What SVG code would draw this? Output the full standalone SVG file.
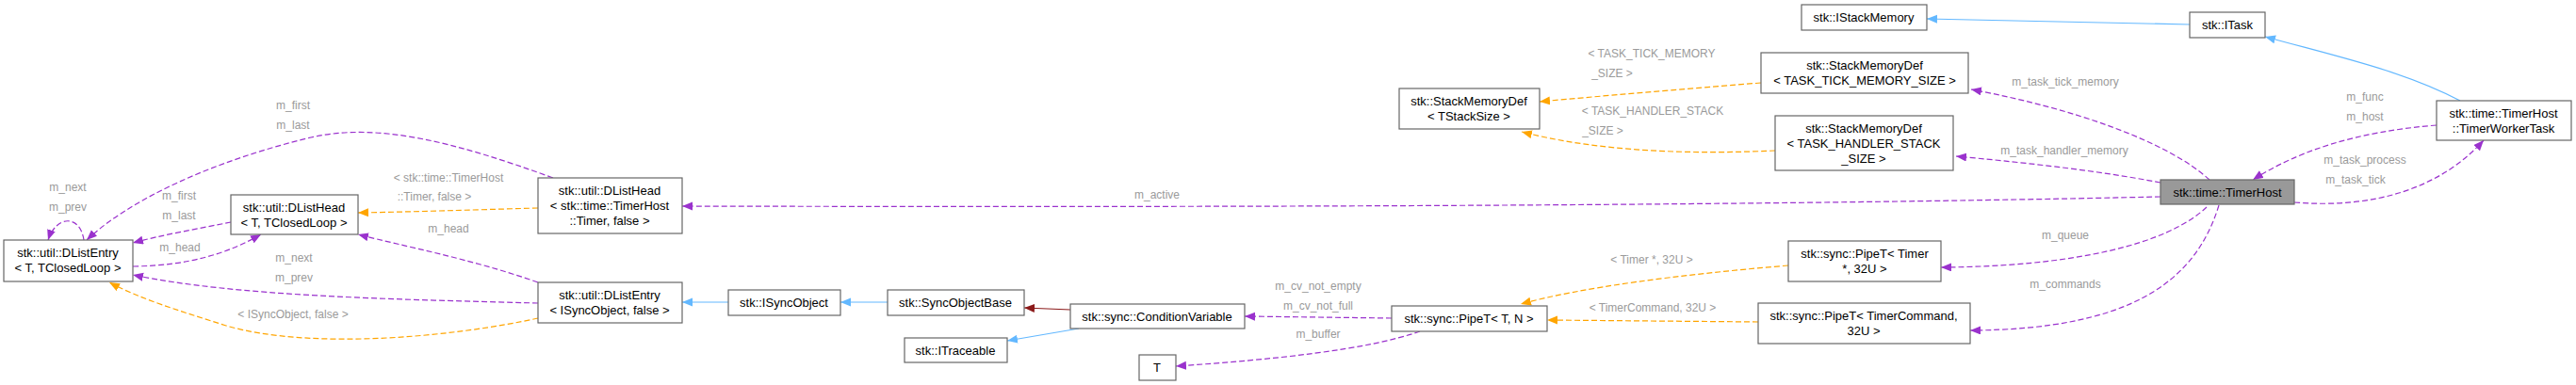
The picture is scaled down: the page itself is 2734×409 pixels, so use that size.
<svg xmlns="http://www.w3.org/2000/svg" width="2734" height="409" viewBox="0 0 2734 409">
<style>
.n rect{fill:#fff;stroke:#666;stroke-width:1.2}
.n text{font-family:"Liberation Sans",Arial,sans-serif;font-size:13px;fill:#000;text-anchor:middle}
.e{fill:none;stroke-width:1.2}
.d{stroke-dasharray:6,3}
.p{stroke:#9a32cd}.o{stroke:#ffa500}.b{stroke:#63b8ff}.r{stroke:#8b1a1a}
.l{font-family:"Liberation Sans",Arial,sans-serif;font-size:12px;fill:#9a9a9a;text-anchor:middle}
</style>
<defs>
<marker id="mp" markerUnits="userSpaceOnUse" markerWidth="12" markerHeight="10" refX="11" refY="4.5" orient="auto"><path d="M0,0L11,4.5L0,9z" fill="#9a32cd"/></marker>
<marker id="mo" markerUnits="userSpaceOnUse" markerWidth="12" markerHeight="10" refX="11" refY="4.5" orient="auto"><path d="M0,0L11,4.5L0,9z" fill="#ffa500"/></marker>
<marker id="mb" markerUnits="userSpaceOnUse" markerWidth="12" markerHeight="10" refX="11" refY="4.5" orient="auto"><path d="M0,0L11,4.5L0,9z" fill="#63b8ff"/></marker>
<marker id="mr" markerUnits="userSpaceOnUse" markerWidth="12" markerHeight="10" refX="11" refY="4.5" orient="auto"><path d="M0,0L11,4.5L0,9z" fill="#8b1a1a"/></marker>
</defs>
<g id="edges">
<path class="e d p" marker-end="url(#mp)" d="M587,189 C480,150 400,130 330,146 C230,170 140,210 92,255"/>
<path class="e d p" marker-end="url(#mp)" d="M89,255 C85,228 60,228 51,255"/>
<path class="e d p" marker-end="url(#mp)" d="M245,236 C210,243 170,250 141,258"/>
<path class="e d p" marker-end="url(#mp)" d="M141,283 C200,282 240,270 277,249"/>
<path class="e o d" marker-end="url(#mo)" d="M571,221 C500,223 440,225 380,226"/>
<path class="e d p" marker-end="url(#mp)" d="M571,300 C500,275 430,262 380,249"/>
<path class="e d p" marker-end="url(#mp)" d="M571,322 C420,318 250,315 141,292"/>
<path class="e o d" marker-end="url(#mo)" d="M571,338 C480,358 330,372 240,346 C190,330 150,318 116,300"/>
<path class="e b" marker-end="url(#mb)" d="M773,321 L724,321"/>
<path class="e b" marker-end="url(#mb)" d="M942,321 L892,321"/>
<path class="e r" marker-end="url(#mr)" d="M1136,329 L1087,327"/>
<path class="e b" marker-end="url(#mb)" d="M1145,349 L1069,362"/>
<path class="e d p" marker-end="url(#mp)" d="M1477,338 L1321,336"/>
<path class="e d p" marker-end="url(#mp)" d="M1507,352 C1450,372 1350,382 1248,389"/>
<path class="e o d" marker-end="url(#mo)" d="M1898,282 C1780,292 1680,305 1614,323"/>
<path class="e o d" marker-end="url(#mo)" d="M1866,342 L1642,340"/>
<path class="e o d" marker-end="url(#mo)" d="M1869,88 C1780,95 1700,102 1634,108"/>
<path class="e o d" marker-end="url(#mo)" d="M1884,160 C1800,164 1700,162 1615,140"/>
<path class="e b" marker-end="url(#mb)" d="M2324,26 L2045,20"/>
<path class="e b" marker-end="url(#mb)" d="M2611,107 C2550,75 2480,60 2404,39"/>
<path class="e d p" marker-end="url(#mp)" d="M2345,191 C2300,150 2200,115 2092,95"/>
<path class="e d p" marker-end="url(#mp)" d="M2293,194 C2220,180 2140,172 2076,166"/>
<path class="e d p" marker-end="url(#mp)" d="M2293,209 C1800,220 1200,220 724,219"/>
<path class="e d p" marker-end="url(#mp)" d="M2342,220 C2300,260 2200,283 2060,284"/>
<path class="e d p" marker-end="url(#mp)" d="M2355,218 C2330,300 2260,350 2091,351"/>
<path class="e d p" marker-end="url(#mp)" d="M2586,133 C2500,140 2440,160 2391,191"/>
<path class="e d p" marker-end="url(#mp)" d="M2435,215 C2520,222 2590,200 2636,149"/>
<text class="l" x="311" y="116">m_first</text>
<text class="l" x="311" y="137">m_last</text>
<text class="l" x="72" y="203">m_next</text>
<text class="l" x="72" y="224">m_prev</text>
<text class="l" x="190" y="212">m_first</text>
<text class="l" x="190" y="233">m_last</text>
<text class="l" x="191" y="267">m_head</text>
<text class="l" x="476" y="193">&lt; stk::time::TimerHost</text>
<text class="l" x="461" y="213">::Timer, false &gt;</text>
<text class="l" x="476" y="247">m_head</text>
<text class="l" x="312" y="278">m_next</text>
<text class="l" x="312" y="299">m_prev</text>
<text class="l" x="311" y="338">&lt; ISyncObject, false &gt;</text>
<text class="l" x="1228" y="211">m_active</text>
<text class="l" x="1399" y="308">m_cv_not_empty</text>
<text class="l" x="1399" y="329">m_cv_not_full</text>
<text class="l" x="1399" y="359">m_buffer</text>
<text class="l" x="1753" y="280">&lt; Timer *, 32U &gt;</text>
<text class="l" x="1754" y="331">&lt; TimerCommand, 32U &gt;</text>
<text class="l" x="1753" y="61">&lt; TASK_TICK_MEMORY</text>
<text class="l" x="1711" y="82">_SIZE &gt;</text>
<text class="l" x="1754" y="122">&lt; TASK_HANDLER_STACK</text>
<text class="l" x="1701" y="143">_SIZE &gt;</text>
<text class="l" x="2192" y="91">m_task_tick_memory</text>
<text class="l" x="2191" y="164">m_task_handler_memory</text>
<text class="l" x="2510" y="107">m_func</text>
<text class="l" x="2510" y="128">m_host</text>
<text class="l" x="2510" y="174">m_task_process</text>
<text class="l" x="2500" y="195">m_task_tick</text>
<text class="l" x="2192" y="254">m_queue</text>
<text class="l" x="2192" y="306">m_commands</text>
</g>
<g id="n_dle" class="n"><rect x="4" y="255" width="137" height="44"/><text x="72" y="273">stk::util::DListEntry</text><text x="72" y="289">&lt; T, TClosedLoop &gt;</text></g>
<g id="n_dlh" class="n"><rect x="245" y="207" width="135" height="42"/><text x="312" y="225">stk::util::DListHead</text><text x="312" y="241">&lt; T, TClosedLoop &gt;</text></g>
<g id="n_dlh_timer" class="n"><rect x="571" y="189" width="153" height="59"/><text x="647" y="207">stk::util::DListHead</text><text x="647" y="223">&lt; stk::time::TimerHost</text><text x="647" y="239">::Timer, false &gt;</text></g>
<g id="n_dle_sync" class="n"><rect x="571" y="300" width="153" height="43"/><text x="647" y="318">stk::util::DListEntry</text><text x="647" y="334">&lt; ISyncObject, false &gt;</text></g>
<g id="n_isync" class="n"><rect x="773" y="308" width="119" height="27"/><text x="832" y="326">stk::ISyncObject</text></g>
<g id="n_syncbase" class="n"><rect x="942" y="308" width="145" height="27"/><text x="1014" y="326">stk::SyncObjectBase</text></g>
<g id="n_cv" class="n"><rect x="1136" y="323" width="185" height="26"/><text x="1228" y="341">stk::sync::ConditionVariable</text></g>
<g id="n_itraceable" class="n"><rect x="960" y="359" width="109" height="26"/><text x="1014" y="377">stk::ITraceable</text></g>
<g id="n_t" class="n"><rect x="1209" y="377" width="39" height="27"/><text x="1228" y="395">T</text></g>
<g id="n_pipe" class="n"><rect x="1477" y="325" width="165" height="27"/><text x="1559" y="343">stk::sync::PipeT&lt; T, N &gt;</text></g>
<g id="n_pipe_timer" class="n"><rect x="1898" y="256" width="162" height="43"/><text x="1979" y="274">stk::sync::PipeT&lt; Timer</text><text x="1979" y="290">*, 32U &gt;</text></g>
<g id="n_pipe_cmd" class="n"><rect x="1866" y="322" width="225" height="43"/><text x="1978" y="340">stk::sync::PipeT&lt; TimerCommand,</text><text x="1978" y="356">32U &gt;</text></g>
<g id="n_istackmem" class="n"><rect x="1912" y="5" width="133" height="27"/><text x="1978" y="23">stk::IStackMemory</text></g>
<g id="n_smd_tick" class="n"><rect x="1869" y="56" width="220" height="43"/><text x="1979" y="74">stk::StackMemoryDef</text><text x="1979" y="90">&lt; TASK_TICK_MEMORY_SIZE &gt;</text></g>
<g id="n_smd" class="n"><rect x="1485" y="94" width="149" height="43"/><text x="1559" y="112">stk::StackMemoryDef</text><text x="1559" y="128">&lt; TStackSize &gt;</text></g>
<g id="n_smd_handler" class="n"><rect x="1884" y="123" width="189" height="58"/><text x="1978" y="141">stk::StackMemoryDef</text><text x="1978" y="157">&lt; TASK_HANDLER_STACK</text><text x="1978" y="173">_SIZE &gt;</text></g>
<g id="n_itask" class="n"><rect x="2324" y="13" width="80" height="27"/><text x="2364" y="31">stk::ITask</text></g>
<g id="n_worker" class="n"><rect x="2586" y="107" width="143" height="42"/><text x="2657" y="125">stk::time::TimerHost</text><text x="2657" y="141">::TimerWorkerTask</text></g>
<g id="n_timerhost" class="n"><rect x="2293" y="191" width="142" height="26" style="fill:#999"/><text x="2364" y="209">stk::time::TimerHost</text></g>
</svg>
